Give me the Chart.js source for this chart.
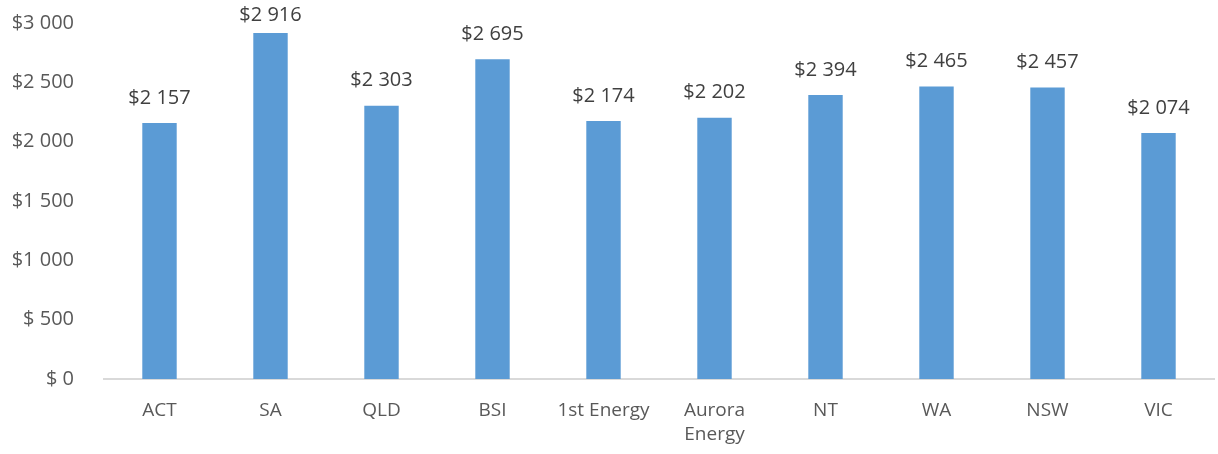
<!DOCTYPE html>
<html>
<head>
<meta charset="utf-8">
<script src="https://cdn.jsdelivr.net/npm/chart.js@4/dist/chart.umd.min.js"></script>
<style>
  html, body { margin: 0; padding: 0; background: #fff; }
  #wrap { width: 1218px; height: 454px; }
</style>
</head>
<body>
<div id="wrap"><canvas id="costChart" width="1218" height="454"></canvas></div>
<script>
// Categories and values
const categories = ['ACT', 'SA', 'QLD', 'BSI', '1st Energy', ['Aurora', 'Energy'], 'NT', 'WA', 'NSW', 'VIC'];
const costs = [2157, 2916, 2303, 2695, 2174, 2202, 2394, 2465, 2457, 2074];
const yTicks = [0, 500, 1000, 1500, 2000, 2500, 3000];

// Excel style "$# ##0" formatting
function money(v) {
    if (v >= 1000) {
        const rest = String(v % 1000).padStart(3, '0');
        return '$' + Math.floor(v / 1000) + ' ' + rest;
    }
    return '$ ' + v;
}

const fontFamily = '"Open Sans", "Noto Sans", sans-serif';

// Draw the value labels above each bar
const barLabels = {
    id: 'barLabels',
    afterDatasetsDraw(chart) {
        const ctx = chart.ctx;
        const meta = chart.getDatasetMeta(0);
        ctx.save();
        ctx.font = '20px ' + fontFamily;
        ctx.fillStyle = '#404040';
        ctx.textAlign = 'center';
        ctx.textBaseline = 'middle';
        meta.data.forEach((bar, i) => {
            ctx.fillText(money(costs[i]), bar.x, Math.max(15, bar.y - 25));
        });
        ctx.restore();
    }
};

const ctx = document.getElementById('costChart').getContext('2d');
const costChart = new Chart(ctx, {
    type: 'bar',
    data: {
        labels: categories,
        datasets: [{
            data: costs,
            backgroundColor: '#5B9BD5',
            categoryPercentage: 1,
            barPercentage: 0.31
        }]
    },
    options: {
        responsive: false,
        animation: false,
        layout: { padding: { top: 23, right: 4, left: 0, bottom: 0 } },
        plugins: {
            legend: { display: false },
            tooltip: { enabled: false }
        },
        scales: {
            x: {
                grid: { display: false },
                border: { display: true, color: '#d9d9d9', width: 2 },
                ticks: {
                    color: '#595959',
                    font: { family: fontFamily, size: 19, lineHeight: 1.25 },
                    padding: 12,
                    maxRotation: 0,
                    autoSkip: false
                },
                afterFit(scale) { scale.height = 75; }
            },
            y: {
                min: 0,
                max: 3000,
                afterBuildTicks(scale) {
                    scale.ticks = yTicks.map(v => ({ value: v }));
                },
                grid: { display: false },
                border: { display: false },
                ticks: {
                    color: '#595959',
                    font: { family: fontFamily, size: 20 },
                    padding: 22,
                    callback: v => money(v)
                },
                afterFit(scale) {
                    scale.width = 104;
                    scale.paddingTop = 0;
                    scale.paddingBottom = 0;
                }
            }
        }
    },
    plugins: [barLabels]
});
</script>
</body>
</html>
